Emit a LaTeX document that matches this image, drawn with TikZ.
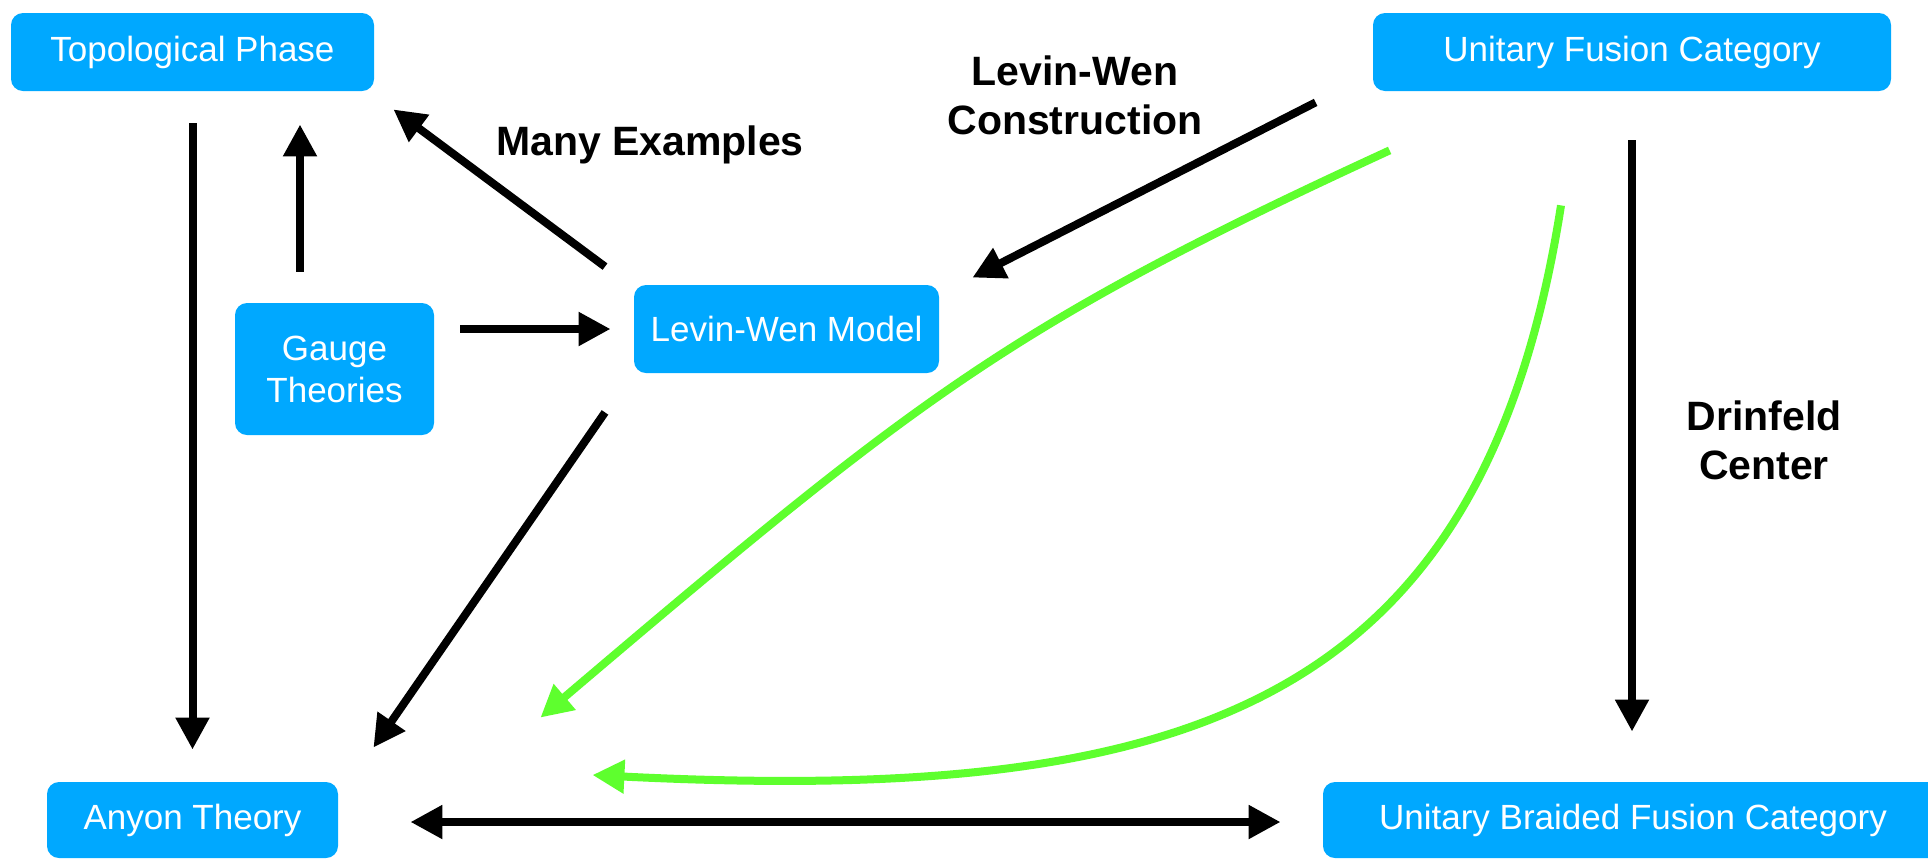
\documentclass[tikz,border=0pt]{standalone}
\usepackage{fontspec}
\setmainfont{Liberation Sans}
\usetikzlibrary{arrows.meta}
\definecolor{boxblue}{RGB}{0,168,255}
\definecolor{lgreen}{RGB}{94,255,46}
\begin{document}
\begin{tikzpicture}[x=0.5pt,y=-0.5pt,
  box/.style={fill=boxblue, rounded corners=6pt, text=white, font=\fontsize{17.5pt}{20pt}\selectfont, inner sep=0pt, align=center},
  arr/.style={line width=4pt, -{Triangle[length=16pt,width=16pt]}},
  garr/.style={line width=4pt, draw=lgreen, -{Triangle[length=16pt,width=16pt]}},
  lab/.style={font=\fontsize{20.5pt}{24.5pt}\selectfont\bfseries, align=center, inner sep=0pt}]
\clip (0,0) rectangle (1928,858);
\fill[white] (0,0) rectangle (1928,858);
% nodes
\node[box, minimum width=181.5pt, minimum height=39pt] (tp) at (192.5,52) {Topological Phase};
\node[box, minimum width=259pt, minimum height=39pt] (ufc) at (1632,52) {Unitary Fusion Category};
\node[box, minimum width=99.5pt, minimum height=66pt] (gauge) at (334.5,369) {Gauge\\[1pt]Theories};
\node[box, minimum width=152.5pt, minimum height=44pt] (lw) at (786.5,329) {Levin-Wen Model};
\node[box, minimum width=145.5pt, minimum height=38pt] (any) at (192.5,820) {Anyon Theory};
\node[box, minimum width=310pt, minimum height=38pt] (ubfc) at (1633,820) {Unitary Braided Fusion Category};
% labels
\node[lab] (lmany) at (650,145) {Many Examples};
\node[lab] (llw) at (1075,95) {Levin-Wen\\Construction};
\node[lab] (ldrin) at (1764,440) {Drinfeld\\Center};
% black arrows
\draw[arr] ([shift={(0,32)}]tp.south) -- ([shift={(0,-32)}]any.north);
\draw[arr] ([shift={(-34.5,-31)}]gauge.north) -- ([shift={(107.5,33)}]tp.south);
\draw[arr] ([shift={(-181.5,-18)}]lw.north) -- ([shift={(19,18)}]tp.south east);
\draw[arr] ([shift={(26,-40)}]gauge.east) -- ([shift={(-23,0)}]lw.west);
\draw[arr] ([shift={(-57,11)}]ufc.south west) -- ([shift={(33,-7)}]lw.north east);
\draw[arr] ([shift={(-181.5,39)}]lw.south) -- ([shift={(35,-34)}]any.north east);
\draw[arr] ([shift={(0,49)}]ufc.south) -- ([shift={(-1,-50)}]ubfc.north);
\draw[line width=4pt, {Triangle[length=16pt,width=16pt]}-{Triangle[length=16pt,width=16pt]}] ([shift={(72,2)}]any.east) -- ([shift={(-42,2)}]ubfc.west);
% green arrows
\draw[garr] ([shift={(17,59)}]ufc.south west) .. controls (1010,325) and (920,395) .. ([shift={(202,-64)}]any.north east);
\draw[garr] ([shift={(-71,114)}]ufc.south) .. controls (1483,705) and (1192,805) .. ([shift={(254,-45)}]any.east);
\end{tikzpicture}
\end{document}
